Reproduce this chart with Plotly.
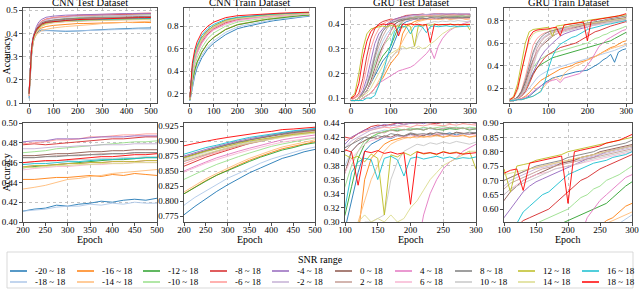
import plotly.graph_objects as go

SNR_LABELS = ["-20 ~ 18", "-18 ~ 18", "-16 ~ 18", "-14 ~ 18", "-12 ~ 18", "-10 ~ 18",
              "-8 ~ 18", "-6 ~ 18", "-4 ~ 18", "-2 ~ 18", "0 ~ 18", "2 ~ 18",
              "4 ~ 18", "6 ~ 18", "8 ~ 18", "10 ~ 18", "12 ~ 18", "14 ~ 18",
              "16 ~ 18", "18 ~ 18"]
COLORS = ["#1f77b4", "#aec7e8", "#ff7f0e", "#ffbb78", "#2ca02c", "#98df8a",
          "#d62728", "#ff9896", "#9467bd", "#c5b0d5", "#8c564b", "#c49c94",
          "#e377c2", "#f7b6d2", "#7f7f7f", "#c7c7c7", "#bcbd22", "#dbdb8d",
          "#17becf", "#ff0000"]

# ---------------- CNN test accuracy ----------------
CNN_TEST_EPOCHS = [0, 5, 10, 15, 20, 30, 40, 50, 70, 100, 150, 200, 225, 250, 275,
                   300, 325, 350, 375, 400, 425, 450, 475, 500]
CNN_TEST_ACC = [
    [0.12, 0.23, 0.30, 0.35, 0.375, 0.40, 0.41, 0.415, 0.414, 0.411, 0.409, 0.411, 0.413, 0.414, 0.417, 0.416, 0.418, 0.419, 0.421, 0.420, 0.422, 0.423, 0.422, 0.424],
    [0.13, 0.24, 0.31, 0.35, 0.375, 0.395, 0.405, 0.41, 0.412, 0.411, 0.410, 0.411, 0.412, 0.413, 0.415, 0.416, 0.416, 0.418, 0.417, 0.419, 0.418, 0.420, 0.419, 0.419],
    [0.13, 0.24, 0.31, 0.35, 0.38, 0.40, 0.415, 0.423, 0.43, 0.435, 0.44, 0.443, 0.443, 0.444, 0.445, 0.445, 0.446, 0.447, 0.446, 0.448, 0.447, 0.449, 0.448, 0.447],
    [0.13, 0.24, 0.31, 0.35, 0.375, 0.395, 0.405, 0.412, 0.418, 0.424, 0.43, 0.433, 0.435, 0.437, 0.44, 0.443, 0.444, 0.446, 0.447, 0.449, 0.45, 0.451, 0.452, 0.453],
    [0.14, 0.25, 0.32, 0.36, 0.385, 0.41, 0.425, 0.435, 0.443, 0.448, 0.452, 0.455, 0.456, 0.457, 0.458, 0.459, 0.46, 0.461, 0.462, 0.463, 0.463, 0.464, 0.465, 0.465],
    [0.14, 0.25, 0.32, 0.36, 0.385, 0.415, 0.43, 0.44, 0.45, 0.458, 0.465, 0.47, 0.471, 0.472, 0.474, 0.475, 0.476, 0.477, 0.478, 0.479, 0.48, 0.481, 0.481, 0.482],
    [0.14, 0.26, 0.33, 0.37, 0.395, 0.42, 0.44, 0.452, 0.462, 0.468, 0.474, 0.478, 0.479, 0.478, 0.479, 0.480, 0.481, 0.482, 0.483, 0.484, 0.484, 0.485, 0.486, 0.486],
    [0.14, 0.26, 0.33, 0.37, 0.395, 0.42, 0.44, 0.452, 0.462, 0.469, 0.475, 0.479, 0.48, 0.481, 0.483, 0.483, 0.484, 0.486, 0.486, 0.487, 0.488, 0.488, 0.489, 0.489],
    [0.15, 0.27, 0.34, 0.38, 0.40, 0.43, 0.45, 0.46, 0.47, 0.475, 0.479, 0.481, 0.482, 0.482, 0.484, 0.484, 0.484, 0.485, 0.486, 0.486, 0.486, 0.487, 0.487, 0.487],
    [0.14, 0.26, 0.33, 0.37, 0.395, 0.42, 0.438, 0.448, 0.458, 0.465, 0.47, 0.474, 0.474, 0.475, 0.476, 0.476, 0.477, 0.477, 0.478, 0.478, 0.478, 0.479, 0.479, 0.479],
    [0.14, 0.26, 0.33, 0.37, 0.395, 0.42, 0.435, 0.445, 0.453, 0.458, 0.463, 0.467, 0.467, 0.468, 0.469, 0.469, 0.470, 0.471, 0.471, 0.472, 0.472, 0.473, 0.473, 0.473],
    [0.14, 0.26, 0.33, 0.37, 0.39, 0.415, 0.43, 0.44, 0.45, 0.456, 0.461, 0.465, 0.465, 0.466, 0.467, 0.467, 0.468, 0.468, 0.469, 0.469, 0.469, 0.470, 0.470, 0.470],
    [0.14, 0.25, 0.32, 0.36, 0.385, 0.41, 0.425, 0.435, 0.444, 0.449, 0.453, 0.456, 0.457, 0.457, 0.458, 0.459, 0.459, 0.460, 0.460, 0.461, 0.461, 0.461, 0.462, 0.462],
    [0.13, 0.25, 0.32, 0.36, 0.385, 0.405, 0.42, 0.43, 0.44, 0.446, 0.45, 0.453, 0.454, 0.455, 0.456, 0.456, 0.457, 0.458, 0.458, 0.459, 0.459, 0.46, 0.46, 0.46],
    [0.14, 0.26, 0.33, 0.37, 0.39, 0.415, 0.43, 0.44, 0.45, 0.456, 0.461, 0.465, 0.465, 0.466, 0.466, 0.467, 0.467, 0.468, 0.468, 0.469, 0.469, 0.470, 0.470, 0.470],
    [0.14, 0.25, 0.32, 0.36, 0.385, 0.41, 0.428, 0.438, 0.447, 0.452, 0.457, 0.46, 0.461, 0.461, 0.462, 0.462, 0.463, 0.463, 0.464, 0.464, 0.465, 0.465, 0.466, 0.466],
    [0.14, 0.25, 0.32, 0.36, 0.385, 0.41, 0.425, 0.435, 0.443, 0.449, 0.453, 0.456, 0.457, 0.457, 0.458, 0.459, 0.459, 0.460, 0.460, 0.461, 0.461, 0.461, 0.462, 0.462],
    [0.14, 0.25, 0.32, 0.36, 0.38, 0.405, 0.42, 0.43, 0.44, 0.447, 0.452, 0.455, 0.455, 0.456, 0.457, 0.457, 0.458, 0.458, 0.459, 0.459, 0.459, 0.46, 0.46, 0.46],
    [0.14, 0.26, 0.33, 0.37, 0.39, 0.415, 0.43, 0.44, 0.448, 0.452, 0.456, 0.458, 0.459, 0.459, 0.46, 0.461, 0.461, 0.462, 0.463, 0.463, 0.464, 0.464, 0.465, 0.465],
    [0.14, 0.26, 0.33, 0.37, 0.39, 0.415, 0.43, 0.44, 0.448, 0.452, 0.456, 0.46, 0.461, 0.462, 0.462, 0.463, 0.464, 0.465, 0.466, 0.466, 0.467, 0.468, 0.468, 0.469],
]

# ---------------- CNN train accuracy ----------------
CNN_TRAIN_EPOCHS = [0, 5, 10, 20, 30, 50, 75, 100, 150, 200, 225, 250, 275, 300, 325,
                    350, 375, 400, 425, 450, 475, 500]
CNN_TRAIN_ACC = [
    [0.14, 0.20, 0.27, 0.36, 0.43, 0.52, 0.60, 0.65, 0.725, 0.777, 0.791, 0.804, 0.816, 0.827, 0.837, 0.847, 0.855, 0.863, 0.871, 0.876, 0.882, 0.886],
    [0.14, 0.21, 0.28, 0.38, 0.45, 0.54, 0.62, 0.67, 0.745, 0.793, 0.806, 0.817, 0.828, 0.838, 0.846, 0.855, 0.863, 0.870, 0.876, 0.881, 0.886, 0.890],
    [0.15, 0.23, 0.31, 0.41, 0.48, 0.57, 0.65, 0.70, 0.77, 0.812, 0.823, 0.834, 0.843, 0.852, 0.860, 0.868, 0.875, 0.881, 0.887, 0.891, 0.896, 0.899],
    [0.15, 0.23, 0.31, 0.41, 0.48, 0.575, 0.655, 0.705, 0.773, 0.815, 0.826, 0.837, 0.846, 0.855, 0.863, 0.871, 0.878, 0.884, 0.890, 0.894, 0.899, 0.902],
    [0.15, 0.23, 0.31, 0.41, 0.48, 0.57, 0.65, 0.70, 0.77, 0.812, 0.823, 0.833, 0.843, 0.851, 0.859, 0.866, 0.873, 0.879, 0.885, 0.889, 0.894, 0.897],
    [0.15, 0.25, 0.34, 0.45, 0.52, 0.61, 0.69, 0.74, 0.80, 0.836, 0.845, 0.853, 0.861, 0.868, 0.874, 0.880, 0.886, 0.891, 0.895, 0.899, 0.902, 0.905],
    [0.16, 0.28, 0.38, 0.50, 0.57, 0.66, 0.73, 0.775, 0.83, 0.858, 0.866, 0.873, 0.879, 0.885, 0.890, 0.896, 0.900, 0.905, 0.909, 0.912, 0.915, 0.917],
    [0.16, 0.29, 0.39, 0.51, 0.58, 0.67, 0.74, 0.78, 0.835, 0.862, 0.869, 0.876, 0.881, 0.887, 0.892, 0.897, 0.901, 0.905, 0.908, 0.911, 0.914, 0.916],
    [0.16, 0.31, 0.42, 0.54, 0.61, 0.70, 0.765, 0.80, 0.85, 0.875, 0.881, 0.886, 0.891, 0.896, 0.900, 0.904, 0.907, 0.911, 0.914, 0.916, 0.918, 0.920],
    [0.16, 0.30, 0.40, 0.52, 0.59, 0.68, 0.75, 0.79, 0.84, 0.866, 0.872, 0.878, 0.884, 0.889, 0.893, 0.897, 0.901, 0.905, 0.908, 0.911, 0.913, 0.915],
    [0.16, 0.31, 0.42, 0.54, 0.61, 0.70, 0.76, 0.80, 0.85, 0.873, 0.879, 0.884, 0.889, 0.894, 0.898, 0.902, 0.905, 0.909, 0.912, 0.914, 0.916, 0.918],
    [0.16, 0.30, 0.40, 0.52, 0.59, 0.68, 0.75, 0.79, 0.84, 0.866, 0.872, 0.878, 0.883, 0.888, 0.892, 0.896, 0.900, 0.904, 0.907, 0.910, 0.912, 0.914],
    [0.16, 0.28, 0.38, 0.49, 0.56, 0.65, 0.725, 0.77, 0.82, 0.850, 0.858, 0.865, 0.872, 0.878, 0.883, 0.888, 0.893, 0.897, 0.902, 0.905, 0.908, 0.910],
    [0.16, 0.28, 0.37, 0.48, 0.555, 0.645, 0.72, 0.765, 0.815, 0.848, 0.856, 0.863, 0.869, 0.875, 0.880, 0.885, 0.890, 0.894, 0.898, 0.901, 0.904, 0.906],
    [0.16, 0.31, 0.42, 0.54, 0.61, 0.70, 0.76, 0.80, 0.85, 0.872, 0.878, 0.884, 0.889, 0.894, 0.898, 0.902, 0.906, 0.909, 0.912, 0.915, 0.917, 0.919],
    [0.16, 0.30, 0.41, 0.53, 0.60, 0.69, 0.755, 0.795, 0.845, 0.870, 0.876, 0.882, 0.887, 0.891, 0.895, 0.899, 0.903, 0.906, 0.909, 0.912, 0.914, 0.916],
    [0.16, 0.31, 0.42, 0.54, 0.61, 0.70, 0.76, 0.80, 0.85, 0.872, 0.878, 0.883, 0.887, 0.892, 0.896, 0.900, 0.903, 0.906, 0.909, 0.911, 0.913, 0.915],
    [0.16, 0.30, 0.41, 0.53, 0.60, 0.69, 0.755, 0.795, 0.843, 0.868, 0.874, 0.879, 0.884, 0.889, 0.893, 0.897, 0.900, 0.904, 0.907, 0.909, 0.911, 0.913],
    [0.17, 0.33, 0.44, 0.56, 0.63, 0.72, 0.78, 0.815, 0.86, 0.878, 0.884, 0.889, 0.893, 0.898, 0.902, 0.906, 0.909, 0.912, 0.915, 0.917, 0.919, 0.921],
    [0.17, 0.35, 0.47, 0.59, 0.66, 0.745, 0.80, 0.835, 0.875, 0.892, 0.896, 0.900, 0.903, 0.906, 0.909, 0.912, 0.914, 0.916, 0.919, 0.920, 0.922, 0.923],
]

# ---------------- GRU test accuracy ----------------
GRU_EPOCHS = [0, 10, 20, 30, 40, 50, 60, 70, 80, 90, 100, 110, 120, 130, 140, 150,
              160, 170, 180, 190, 200, 210, 220, 230, 240, 250, 260, 270, 280, 290, 300]
GRU_TEST_ACC = [
    [0.09, 0.09, 0.10, 0.11, 0.13, 0.16, 0.19, 0.22, 0.25, 0.27, 0.29, 0.33, 0.37, 0.40, 0.41, 0.415, 0.42, 0.418, 0.422, 0.42, 0.424, 0.421, 0.423, 0.425, 0.422, 0.424, 0.426, 0.423, 0.425, 0.424, 0.426],
    [0.09, 0.09, 0.10, 0.12, 0.15, 0.19, 0.24, 0.29, 0.33, 0.36, 0.38, 0.40, 0.41, 0.42, 0.425, 0.428, 0.43, 0.429, 0.431, 0.43, 0.432, 0.431, 0.433, 0.432, 0.43, 0.433, 0.432, 0.434, 0.432, 0.433, 0.431],
    [0.09, 0.09, 0.09, 0.10, 0.11, 0.12, 0.14, 0.16, 0.18, 0.21, 0.24, 0.26, 0.28, 0.36, 0.39, 0.40, 0.41, 0.415, 0.418, 0.42, 0.419, 0.422, 0.42, 0.421, 0.423, 0.42, 0.422, 0.421, 0.423, 0.42, 0.422],
    [0.09, 0.09, 0.09, 0.10, 0.11, 0.12, 0.14, 0.17, 0.20, 0.23, 0.26, 0.28, 0.30, 0.33, 0.36, 0.38, 0.40, 0.41, 0.415, 0.418, 0.42, 0.419, 0.421, 0.42, 0.422, 0.42, 0.423, 0.421, 0.422, 0.42, 0.421],
    [0.09, 0.09, 0.10, 0.11, 0.13, 0.16, 0.20, 0.24, 0.27, 0.29, 0.31, 0.35, 0.39, 0.41, 0.42, 0.425, 0.428, 0.43, 0.429, 0.431, 0.43, 0.432, 0.43, 0.433, 0.431, 0.43, 0.432, 0.431, 0.433, 0.43, 0.432],
    [0.09, 0.09, 0.10, 0.12, 0.15, 0.19, 0.24, 0.28, 0.31, 0.33, 0.35, 0.38, 0.40, 0.415, 0.42, 0.425, 0.428, 0.43, 0.432, 0.43, 0.433, 0.431, 0.434, 0.432, 0.433, 0.435, 0.433, 0.434, 0.432, 0.434, 0.433],
    [0.10, 0.10, 0.12, 0.18, 0.27, 0.34, 0.38, 0.40, 0.41, 0.415, 0.42, 0.418, 0.425, 0.43, 0.435, 0.437, 0.436, 0.438, 0.44, 0.438, 0.44, 0.439, 0.441, 0.44, 0.439, 0.441, 0.44, 0.442, 0.44, 0.441, 0.44],
    [0.09, 0.10, 0.11, 0.15, 0.22, 0.30, 0.35, 0.38, 0.40, 0.41, 0.415, 0.42, 0.425, 0.428, 0.43, 0.432, 0.434, 0.433, 0.435, 0.436, 0.434, 0.437, 0.436, 0.438, 0.437, 0.436, 0.438, 0.437, 0.439, 0.438, 0.437],
    [0.09, 0.09, 0.10, 0.13, 0.18, 0.25, 0.32, 0.36, 0.38, 0.40, 0.41, 0.42, 0.425, 0.43, 0.432, 0.435, 0.438, 0.436, 0.44, 0.438, 0.44, 0.441, 0.439, 0.442, 0.44, 0.441, 0.443, 0.44, 0.442, 0.441, 0.44],
    [0.09, 0.09, 0.10, 0.12, 0.16, 0.22, 0.29, 0.34, 0.37, 0.39, 0.405, 0.415, 0.42, 0.425, 0.43, 0.433, 0.435, 0.437, 0.436, 0.438, 0.44, 0.439, 0.441, 0.44, 0.442, 0.44, 0.441, 0.443, 0.442, 0.44, 0.442],
    [0.09, 0.09, 0.10, 0.11, 0.13, 0.17, 0.22, 0.27, 0.31, 0.34, 0.37, 0.40, 0.41, 0.415, 0.42, 0.418, 0.422, 0.42, 0.424, 0.421, 0.425, 0.423, 0.422, 0.426, 0.424, 0.425, 0.423, 0.427, 0.425, 0.424, 0.426],
    [0.09, 0.09, 0.10, 0.12, 0.15, 0.20, 0.26, 0.31, 0.35, 0.38, 0.40, 0.41, 0.418, 0.42, 0.425, 0.427, 0.426, 0.43, 0.428, 0.431, 0.43, 0.432, 0.43, 0.433, 0.431, 0.432, 0.434, 0.432, 0.433, 0.431, 0.432],
    [0.09, 0.09, 0.09, 0.10, 0.11, 0.12, 0.14, 0.16, 0.17, 0.18, 0.19, 0.20, 0.21, 0.215, 0.22, 0.225, 0.235, 0.25, 0.265, 0.28, 0.30, 0.26, 0.31, 0.34, 0.36, 0.375, 0.385, 0.39, 0.40, 0.405, 0.41],
    [0.09, 0.09, 0.10, 0.11, 0.13, 0.16, 0.20, 0.25, 0.30, 0.34, 0.37, 0.39, 0.40, 0.41, 0.415, 0.418, 0.42, 0.419, 0.422, 0.42, 0.423, 0.421, 0.424, 0.422, 0.425, 0.423, 0.424, 0.422, 0.425, 0.424, 0.423],
    [0.09, 0.09, 0.10, 0.12, 0.15, 0.20, 0.27, 0.33, 0.37, 0.39, 0.405, 0.41, 0.415, 0.42, 0.418, 0.422, 0.42, 0.425, 0.423, 0.422, 0.426, 0.424, 0.425, 0.423, 0.427, 0.425, 0.424, 0.426, 0.425, 0.427, 0.426],
    [0.09, 0.09, 0.09, 0.10, 0.11, 0.12, 0.12, 0.15, 0.19, 0.23, 0.26, 0.28, 0.29, 0.30, 0.30, 0.305, 0.31, 0.36, 0.385, 0.40, 0.405, 0.41, 0.408, 0.412, 0.41, 0.413, 0.411, 0.414, 0.412, 0.41, 0.413],
    [0.10, 0.12, 0.20, 0.30, 0.36, 0.38, 0.385, 0.39, 0.392, 0.388, 0.395, 0.39, 0.393, 0.385, 0.396, 0.39, 0.31, 0.395, 0.392, 0.398, 0.394, 0.40, 0.396, 0.398, 0.395, 0.40, 0.397, 0.399, 0.396, 0.40, 0.375],
    [0.09, 0.09, 0.10, 0.11, 0.12, 0.14, 0.17, 0.20, 0.23, 0.26, 0.28, 0.29, 0.30, 0.31, 0.30, 0.305, 0.30, 0.31, 0.30, 0.305, 0.32, 0.33, 0.345, 0.36, 0.37, 0.38, 0.385, 0.39, 0.395, 0.40, 0.40],
    [0.09, 0.09, 0.09, 0.09, 0.10, 0.10, 0.11, 0.15, 0.20, 0.26, 0.32, 0.37, 0.385, 0.39, 0.388, 0.36, 0.39, 0.393, 0.388, 0.365, 0.39, 0.392, 0.389, 0.391, 0.393, 0.39, 0.392, 0.389, 0.391, 0.39, 0.392],
    [0.10, 0.11, 0.16, 0.26, 0.33, 0.37, 0.385, 0.395, 0.40, 0.398, 0.402, 0.399, 0.352, 0.40, 0.398, 0.401, 0.397, 0.399, 0.396, 0.398, 0.325, 0.399, 0.397, 0.398, 0.396, 0.399, 0.397, 0.398, 0.396, 0.397, 0.398],
]

# ---------------- GRU train accuracy ----------------
GRU_TRAIN_ACC = [
    [0.09, 0.09, 0.10, 0.10, 0.11, 0.13, 0.16, 0.19, 0.22, 0.25, 0.27, 0.29, 0.30, 0.31, 0.32, 0.33, 0.34, 0.345, 0.35, 0.355, 0.36, 0.38, 0.40, 0.42, 0.45, 0.47, 0.50, 0.43, 0.52, 0.54, 0.55],
    [0.09, 0.10, 0.11, 0.13, 0.16, 0.20, 0.25, 0.29, 0.32, 0.34, 0.36, 0.37, 0.38, 0.39, 0.40, 0.41, 0.42, 0.43, 0.44, 0.45, 0.46, 0.47, 0.48, 0.49, 0.50, 0.51, 0.52, 0.535, 0.55, 0.565, 0.58],
    [0.09, 0.09, 0.10, 0.11, 0.13, 0.16, 0.20, 0.24, 0.27, 0.29, 0.31, 0.33, 0.35, 0.37, 0.38, 0.39, 0.40, 0.42, 0.43, 0.44, 0.45, 0.47, 0.48, 0.50, 0.52, 0.54, 0.56, 0.57, 0.59, 0.61, 0.62],
    [0.09, 0.09, 0.10, 0.10, 0.11, 0.12, 0.13, 0.15, 0.18, 0.22, 0.26, 0.28, 0.30, 0.27, 0.33, 0.36, 0.38, 0.40, 0.41, 0.43, 0.45, 0.46, 0.48, 0.50, 0.52, 0.53, 0.55, 0.56, 0.57, 0.58, 0.59],
    [0.09, 0.10, 0.11, 0.14, 0.19, 0.26, 0.33, 0.38, 0.41, 0.43, 0.45, 0.47, 0.48, 0.49, 0.50, 0.51, 0.52, 0.53, 0.54, 0.55, 0.56, 0.57, 0.58, 0.59, 0.60, 0.61, 0.62, 0.64, 0.66, 0.68, 0.695],
    [0.09, 0.10, 0.12, 0.16, 0.22, 0.30, 0.38, 0.43, 0.46, 0.48, 0.50, 0.51, 0.52, 0.53, 0.54, 0.55, 0.56, 0.57, 0.58, 0.59, 0.60, 0.62, 0.64, 0.65, 0.67, 0.68, 0.70, 0.71, 0.72, 0.735, 0.75],
    [0.09, 0.10, 0.11, 0.13, 0.17, 0.24, 0.32, 0.38, 0.43, 0.47, 0.50, 0.52, 0.54, 0.56, 0.57, 0.58, 0.59, 0.60, 0.62, 0.64, 0.66, 0.68, 0.70, 0.71, 0.725, 0.74, 0.75, 0.76, 0.77, 0.78, 0.79],
    [0.09, 0.10, 0.12, 0.18, 0.30, 0.45, 0.58, 0.64, 0.67, 0.69, 0.70, 0.71, 0.72, 0.73, 0.74, 0.745, 0.75, 0.755, 0.76, 0.765, 0.77, 0.775, 0.78, 0.785, 0.79, 0.795, 0.80, 0.805, 0.81, 0.815, 0.82],
    [0.09, 0.10, 0.12, 0.15, 0.20, 0.27, 0.35, 0.42, 0.48, 0.53, 0.57, 0.60, 0.63, 0.66, 0.68, 0.695, 0.705, 0.715, 0.725, 0.735, 0.745, 0.755, 0.765, 0.775, 0.78, 0.79, 0.80, 0.805, 0.81, 0.815, 0.82],
    [0.09, 0.10, 0.12, 0.16, 0.25, 0.38, 0.50, 0.58, 0.63, 0.66, 0.68, 0.70, 0.71, 0.72, 0.73, 0.74, 0.745, 0.75, 0.755, 0.76, 0.765, 0.77, 0.775, 0.78, 0.785, 0.79, 0.795, 0.80, 0.805, 0.81, 0.815],
    [0.09, 0.10, 0.12, 0.17, 0.25, 0.35, 0.45, 0.52, 0.57, 0.60, 0.63, 0.66, 0.68, 0.70, 0.71, 0.72, 0.73, 0.74, 0.75, 0.76, 0.765, 0.77, 0.78, 0.785, 0.79, 0.80, 0.805, 0.81, 0.815, 0.82, 0.825],
    [0.09, 0.10, 0.11, 0.15, 0.22, 0.33, 0.45, 0.55, 0.61, 0.65, 0.67, 0.69, 0.70, 0.71, 0.72, 0.73, 0.74, 0.745, 0.75, 0.755, 0.76, 0.765, 0.77, 0.775, 0.78, 0.785, 0.79, 0.795, 0.80, 0.805, 0.81],
    [0.09, 0.09, 0.10, 0.11, 0.12, 0.14, 0.17, 0.20, 0.22, 0.24, 0.26, 0.27, 0.28, 0.25, 0.29, 0.30, 0.31, 0.32, 0.33, 0.36, 0.40, 0.45, 0.51, 0.57, 0.60, 0.63, 0.65, 0.67, 0.69, 0.71, 0.72],
    [0.09, 0.10, 0.11, 0.14, 0.20, 0.30, 0.42, 0.52, 0.58, 0.62, 0.65, 0.67, 0.685, 0.70, 0.71, 0.72, 0.725, 0.73, 0.74, 0.745, 0.75, 0.755, 0.76, 0.765, 0.77, 0.775, 0.78, 0.785, 0.79, 0.795, 0.80],
    [0.09, 0.10, 0.12, 0.17, 0.27, 0.40, 0.52, 0.60, 0.65, 0.68, 0.70, 0.71, 0.72, 0.73, 0.74, 0.75, 0.755, 0.76, 0.765, 0.77, 0.78, 0.785, 0.79, 0.795, 0.80, 0.81, 0.815, 0.82, 0.825, 0.83, 0.84],
    [0.09, 0.10, 0.11, 0.14, 0.19, 0.28, 0.40, 0.50, 0.57, 0.62, 0.65, 0.67, 0.68, 0.69, 0.70, 0.71, 0.72, 0.73, 0.74, 0.745, 0.75, 0.755, 0.76, 0.77, 0.775, 0.78, 0.785, 0.79, 0.795, 0.80, 0.805],
    [0.10, 0.13, 0.24, 0.42, 0.60, 0.70, 0.72, 0.725, 0.73, 0.735, 0.74, 0.66, 0.75, 0.755, 0.76, 0.77, 0.775, 0.78, 0.785, 0.79, 0.80, 0.805, 0.81, 0.815, 0.82, 0.825, 0.83, 0.835, 0.84, 0.845, 0.85],
    [0.10, 0.11, 0.18, 0.33, 0.50, 0.62, 0.68, 0.70, 0.71, 0.715, 0.72, 0.725, 0.73, 0.735, 0.74, 0.745, 0.75, 0.755, 0.76, 0.765, 0.77, 0.775, 0.78, 0.785, 0.79, 0.795, 0.80, 0.805, 0.81, 0.815, 0.82],
    [0.09, 0.09, 0.10, 0.10, 0.11, 0.12, 0.13, 0.15, 0.17, 0.25, 0.38, 0.48, 0.55, 0.59, 0.61, 0.63, 0.65, 0.66, 0.68, 0.70, 0.72, 0.73, 0.74, 0.75, 0.76, 0.765, 0.77, 0.78, 0.785, 0.79, 0.80],
    [0.10, 0.12, 0.20, 0.35, 0.52, 0.65, 0.70, 0.715, 0.72, 0.72, 0.725, 0.735, 0.74, 0.665, 0.76, 0.765, 0.77, 0.775, 0.78, 0.785, 0.62, 0.80, 0.805, 0.81, 0.815, 0.82, 0.83, 0.835, 0.84, 0.85, 0.86],
]

PANEL_TITLES = ["CNN Test Dataset", "CNN Train Dataset", "GRU Test Dataset", "GRU Train Dataset"]

# ---------------- layout geometry (pixels in a 640x290 canvas) ----------------
W, H = 640, 290
FONT = "Liberation Serif, Times New Roman, DejaVu Serif, serif"
COL_PX = [(23, 157), (184, 315), (345, 476), (504, 632)]
TOP_PX = (8, 103)
BOT_PX = (123, 222)


def xd(a, b):
    return [a / W, b / W]


def yd(top, bottom):
    return [1 - bottom / H, 1 - top / H]


panels = [
    # data epochs, data, x-range, y-range, xticks, yticks, yfmt, column, row, grid-x, grid-y
    (CNN_TEST_EPOCHS, CNN_TEST_ACC, [-25, 525], [0.1, 0.51], [0, 100, 200, 300, 400, 500],
     [0.1, 0.2, 0.3, 0.4, 0.5], ".1f", 0, 0, None, None),
    (CNN_TRAIN_EPOCHS, CNN_TRAIN_ACC, [-25, 525], [0.12, 0.96], [0, 100, 200, 300, 400, 500],
     [0.2, 0.4, 0.6, 0.8], ".1f", 1, 0, None, None),
    (GRU_EPOCHS, GRU_TEST_ACC, [-15, 315], [0.08, 0.465], [0, 100, 200, 300],
     [0.1, 0.2, 0.3, 0.4], ".1f", 2, 0, None, None),
    (GRU_EPOCHS, GRU_TRAIN_ACC, [-15, 315], [0.07, 0.91], [0, 100, 200, 300],
     [0.2, 0.4, 0.6, 0.8], ".1f", 3, 0, None, None),
    (CNN_TEST_EPOCHS, CNN_TEST_ACC, [200, 500], [0.40, 0.50], [200, 250, 300, 350, 400, 450, 500],
     [0.40, 0.42, 0.44, 0.46, 0.48, 0.50], ".2f", 0, 1, [300, 350], [0.42, 0.48]),
    (CNN_TRAIN_EPOCHS, CNN_TRAIN_ACC, [200, 500], [0.765, 0.93], [200, 250, 300, 350, 400, 450, 500],
     [0.775, 0.8, 0.825, 0.85, 0.875, 0.9, 0.925], ".3f", 1, 1, [300], [0.85, 0.9]),
    (GRU_EPOCHS, GRU_TEST_ACC, [100, 300], [0.30, 0.44], [100, 150, 200, 250, 300],
     [0.30, 0.32, 0.34, 0.36, 0.38, 0.40, 0.42, 0.44], ".2f", 2, 1, [250], [0.38]),
    (GRU_EPOCHS, GRU_TRAIN_ACC, [100, 300], [0.555, 0.90], [100, 150, 200, 250, 300],
     [0.60, 0.65, 0.70, 0.75, 0.80, 0.85, 0.90], ".2f", 3, 1, [200], [0.85]),
]

fig = go.Figure()
layout_axes = {}
annotations = []
shapes = []

tickfont = dict(family=FONT, size=9, color="black")
for k, (ep, data, xr, yr, xt, yt, yfmt, col, row, gx, gy) in enumerate(panels, start=1):
    xs = "x" if k == 1 else f"x{k}"
    ys = "y" if k == 1 else f"y{k}"
    for i, series in enumerate(data):
        fig.add_trace(go.Scatter(x=ep, y=series, mode="lines", xaxis=xs, yaxis=ys,
                                 line=dict(color=COLORS[i], width=0.9),
                                 name=SNR_LABELS[i], showlegend=False, hoverinfo="skip"))
    c0, c1 = COL_PX[col]
    t0, t1 = TOP_PX if row == 0 else BOT_PX
    common = dict(showline=True, mirror=True, linecolor="#222222", linewidth=0.8,
                  ticks="outside", ticklen=3, tickwidth=0.8, tickcolor="#222222",
                  tickfont=tickfont, zeroline=False, automargin=False)
    if row == 0:
        grid = dict(showgrid=True, gridcolor="#b5b5b5", griddash="dot", gridwidth=0.8)
        gridx, gridy = grid, grid
    else:
        gridx = dict(showgrid=False, minor=dict(tickmode="array", tickvals=gx, showgrid=True,
                                                 gridcolor="#b5b5b5", griddash="dot",
                                                 gridwidth=0.8, ticks=""))
        gridy = dict(showgrid=False, minor=dict(tickmode="array", tickvals=gy, showgrid=True,
                                                 gridcolor="#b5b5b5", griddash="dot",
                                                 gridwidth=0.8, ticks=""))
    layout_axes["xaxis" if k == 1 else f"xaxis{k}"] = dict(
        domain=xd(c0, c1), range=xr, anchor=ys, tickmode="array", tickvals=xt,
        ticklabelstandoff=-4, **common, **gridx)
    layout_axes["yaxis" if k == 1 else f"yaxis{k}"] = dict(
        domain=yd(t0, t1), range=yr, anchor=xs, tickmode="array", tickvals=yt,
        tickformat=yfmt, **common, **gridy)
    if row == 0:
        annotations.append(dict(text=PANEL_TITLES[col], x=(c0 + c1) / 2 / W, y=1 - t0 / H,
                                xref="paper", yref="paper", xanchor="center", yanchor="bottom",
                                showarrow=False, yshift=-2,
                                font=dict(family=FONT, size=10.5, color="black")))
    else:
        annotations.append(dict(text="Epoch", x=(c0 + c1) / 2 / W, y=1 - 239 / H,
                                xref="paper", yref="paper", xanchor="center", yanchor="middle",
                                showarrow=False, font=dict(family=FONT, size=10, color="black")))
    if col == 0:
        annotations.append(dict(text="Accuracy", x=6 / W, y=1 - (t0 + t1) / 2 / H,
                                xref="paper", yref="paper", xanchor="center", yanchor="middle",
                                textangle=-90, showarrow=False,
                                font=dict(family=FONT, size=10, color="black")))

# ---------------- legend (drawn as a boxed 10 x 2 key) ----------------
LEG_COL_PX = [10, 77, 143, 210, 272, 335, 395, 455, 518, 582]
LEG_ROW_PX = [271, 282]
shapes.append(dict(type="rect", xref="paper", yref="paper", x0=7 / W, x1=633 / W,
                   y0=1 - 288 / H, y1=1 - 252 / H, line=dict(color="#cfcfcf", width=0.8),
                   fillcolor="white", layer="below"))
annotations.append(dict(text="SNR range", x=0.5, y=1 - 259 / H, xref="paper", yref="paper",
                        xanchor="center", yanchor="middle", showarrow=False,
                        font=dict(family=FONT, size=10, color="black")))
for i, lab in enumerate(SNR_LABELS):
    c = i // 2
    r = i % 2
    x0 = LEG_COL_PX[c]
    yy = 1 - LEG_ROW_PX[r] / H
    shapes.append(dict(type="line", xref="paper", yref="paper", x0=x0 / W, x1=(x0 + 17) / W,
                       y0=yy, y1=yy, line=dict(color=COLORS[i], width=1.5)))
    annotations.append(dict(text=lab, x=(x0 + 23) / W, y=yy, xref="paper", yref="paper",
                            xanchor="left", yanchor="middle", showarrow=False,
                            font=dict(family=FONT, size=9, color="black")))

fig.update_layout(width=W, height=H, margin=dict(l=0, r=0, t=0, b=0, autoexpand=False),
                  paper_bgcolor="white", plot_bgcolor="white", showlegend=False,
                  annotations=annotations, shapes=shapes, hovermode=False,
                  font=dict(family=FONT, size=9, color="black"), **layout_axes)

fig.write_html("out.html", config={"displayModeBar": False, "staticPlot": True},
               post_script="document.body.style.margin='0';document.body.style.padding='0';")
